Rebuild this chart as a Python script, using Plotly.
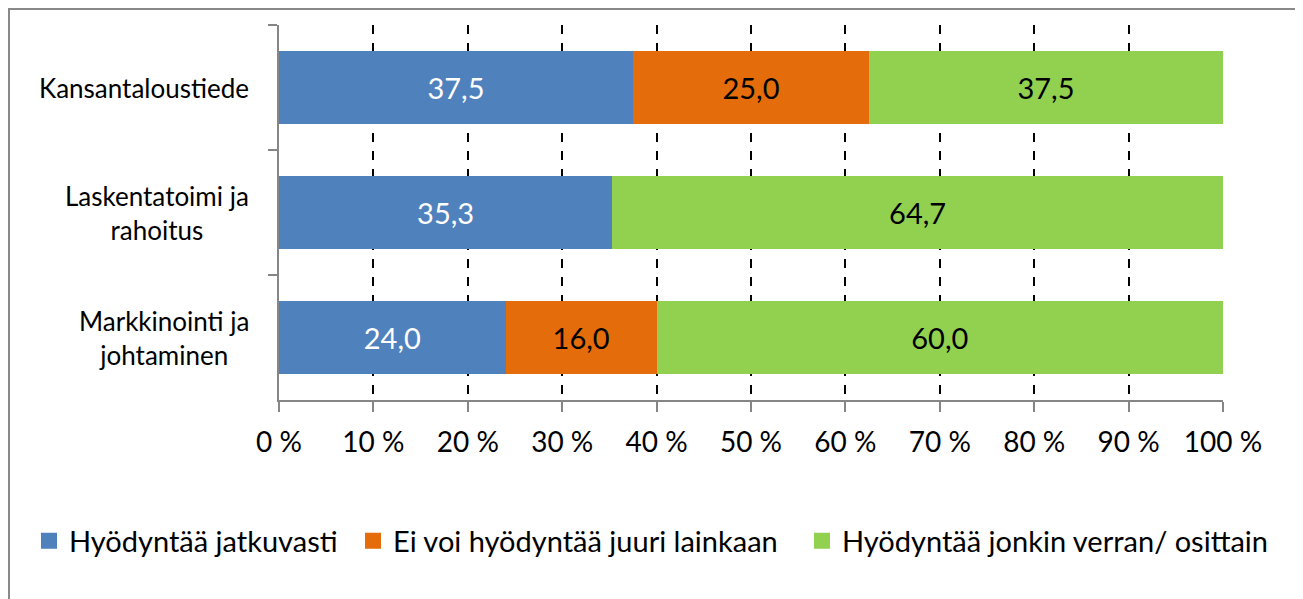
import plotly.graph_objects as go

categories = ["Kansantaloustiede", "Laskentatoimi ja<br>rahoitus", "Markkinointi ja<br>johtaminen"]
series_names = ["Hyödyntää jatkuvasti", "Ei voi hyödyntää juuri lainkaan", "Hyödyntää jonkin verran/ osittain"]
jatkuvasti = [37.5, 35.3, 24.0]
ei_lainkaan = [25.0, None, 16.0]
jonkin_verran = [37.5, 64.7, 60.0]
tick_vals = [0, 10, 20, 30, 40, 50, 60, 70, 80, 90, 100]
tick_text = [f"{v} %" for v in tick_vals]

colors = ["#4F81BD", "#E46C0A", "#92D050"]
text_colors = ["white", "black", "black"]
legend_ids = ["legend", "legend2", "legend3"]
legend_text_x = [69, 393, 842]   # page-pixel x where each legend text starts
FONT = "Lato"

OFF = 8  # default page body margin in the browser
W, H = 1303 - OFF, 599 - OFF
ML, MR, MT, MB = 279 - OFF, 80, 25 - OFF, 199
PW, PH = W - ML - MR, H - MT - MB


def px(xp):  # page x -> paper
    return (xp - OFF - ML) / PW


def py(yp):  # page y -> paper
    return (H - MB - (yp - OFF)) / PH


fig = go.Figure()
for name, vals, c, tc in zip(series_names, [jatkuvasti, ei_lainkaan, jonkin_verran], colors, text_colors):
    fig.add_trace(go.Bar(
        y=categories, x=vals, name=name, orientation="h", showlegend=False,
        marker=dict(color=c, line=dict(width=0)),
        texttemplate="%{x:.1f}", textposition="inside", insidetextanchor="middle",
        textangle=0, constraintext="none",
        textfont=dict(family=FONT, size=29, color=tc),
    ))
# legend entries (square swatches)
for name, c, lg in zip(series_names, colors, legend_ids):
    fig.add_trace(go.Scatter(
        x=[None], y=[None], mode="markers", name=name, legend=lg,
        marker=dict(symbol="square", size=16, color=c), showlegend=True,
    ))

# category labels as centered multi-line annotations
for cat in categories:
    fig.add_annotation(x=px(251), xref="paper", y=cat, yref="y", text=cat,
                       showarrow=False, xanchor="right", align="center",
                       font=dict(family=FONT, size=26, color="black"))

fig.add_shape(type="rect", xref="paper", yref="paper",
              x0=px(OFF + 1), x1=px(1297.5), y0=py(605), y1=py(OFF + 1),
              line=dict(color="#898989", width=2), fillcolor="rgba(0,0,0,0)", layer="below")

legend_common = dict(orientation="h", xanchor="left", yanchor="middle",
                     font=dict(family=FONT, size=29, color="black"),
                     bgcolor="rgba(0,0,0,0)", itemwidth=30)
layout_legends = {}
for lg, tx in zip(legend_ids, legend_text_x):
    layout_legends[lg] = dict(legend_common, x=px(tx - 40), y=py(541))

fig.update_layout(
    width=W, height=H,
    margin=dict(l=ML, r=MR, t=MT, b=MB, autoexpand=False),
    barmode="stack", bargap=0.41,
    separators=", ",
    paper_bgcolor="white", plot_bgcolor="white",
    font=dict(family=FONT, size=22, color="black"),
    showlegend=True,
    **layout_legends,
)
fig.update_xaxes(range=[0, 100], tickvals=tick_vals, ticktext=tick_text,
                 showgrid=True, gridcolor="black", griddash="dash", gridwidth=1.5,
                 showline=True, linecolor="#868686", linewidth=2,
                 ticks="outside", ticklen=10, tickcolor="#868686", tickwidth=2,
                 tickfont=dict(family=FONT, size=28, color="black"),
                 ticklabelstandoff=6, zeroline=False)
fig.update_yaxes(categoryorder="array", categoryarray=categories, autorange="reversed",
                 showticklabels=False, tickson="boundaries",
                 showline=True, linecolor="#868686", linewidth=2,
                 ticks="outside", ticklen=9, tickcolor="#868686", tickwidth=2,
                 showgrid=False, zeroline=False)

fig.write_html("out.html")
